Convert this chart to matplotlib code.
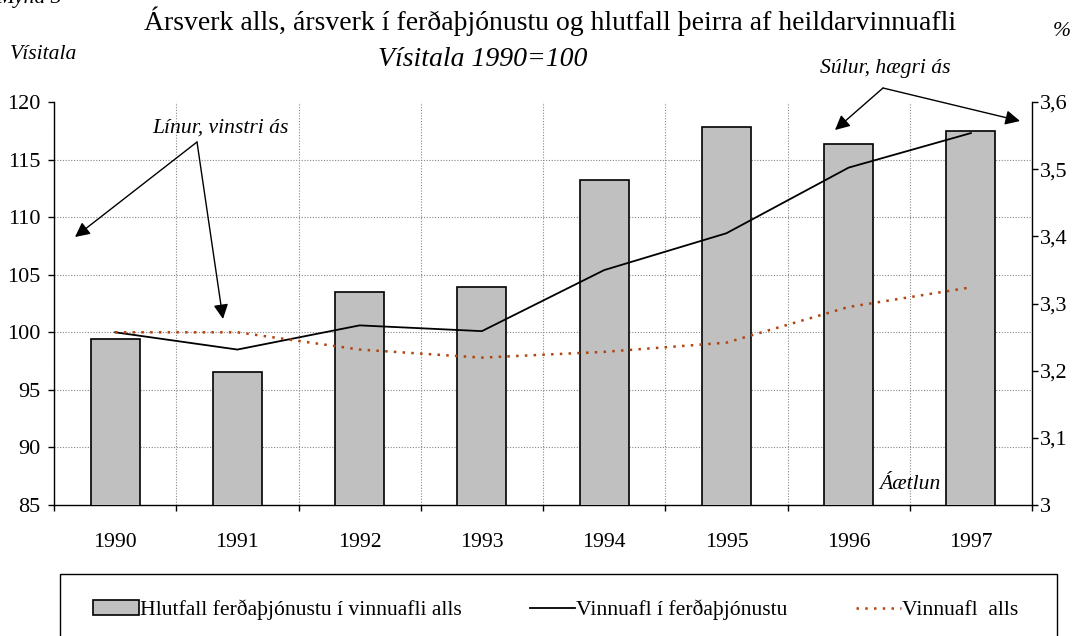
import numpy as np
import matplotlib
matplotlib.use('Agg')
import matplotlib.pyplot as plt
from matplotlib.patches import Patch, Rectangle, FancyArrowPatch
from matplotlib.lines import Line2D
from matplotlib.ticker import FuncFormatter

plt.rcParams['font.family'] = ['Liberation Serif', 'DejaVu Serif']

years = ['1990', '1991', '1992', '1993', '1994', '1995', '1996', '1997']
hlutfall = [3.247, 3.198, 3.317, 3.325, 3.484, 3.563, 3.538, 3.557]   # % (right axis)
vinnuafl_ferd = [100, 98.5, 100.6, 100.1, 105.4, 108.6, 114.3, 117.3]  # index
vinnuafl_alls = [100, 100, 98.5, 97.8, 98.3, 99.1, 102.2, 103.9]       # index
left_ticks = [85, 90, 95, 100, 105, 110, 115, 120]
right_ticks = [3.0, 3.1, 3.2, 3.3, 3.4, 3.5, 3.6]

W, H = 1084, 636


def px(x, y):
    """pixel (from top-left) -> figure fraction"""
    return (x / W, 1 - y / H)


fig = plt.figure(figsize=(W / 100, H / 100), dpi=100)
ax_b = fig.add_axes([54 / W, 131 / H, 978 / W, 403 / H])
ax_l = ax_b.twinx()

x = np.arange(len(years))

# bars, right axis
ax_b.bar(x, hlutfall, width=0.4, color='#c0c0c0', edgecolor='black', linewidth=1.2, zorder=3)
ax_b.set_ylim(3.0, 3.6)
ax_b.set_xlim(-0.5, len(years) - 0.5)
ax_b.yaxis.tick_right()
ax_b.set_yticks(right_ticks)
ax_b.yaxis.set_major_formatter(FuncFormatter(lambda v, p: ('%g' % round(v, 1)).replace('.', ',')))
# grid follows the left axis
ax_b.set_yticks([3.0 + (v - 85) * 0.6 / 35 for v in left_ticks[1:]], minor=True)
ax_b.set_xticks(np.arange(-0.5, len(years), 1))
ax_b.set_xticklabels([])
ax_b.set_xticks(x, minor=True)
ax_b.set_xticklabels(years, minor=True)
ax_b.set_axisbelow(True)
ax_b.grid(axis='y', which='minor', color='#888888', linestyle=(0, (1, 1.5)), linewidth=0.8)
ax_b.grid(axis='x', which='major', color='#888888', linestyle=(0, (1, 1.5)), linewidth=0.8)
ax_b.tick_params(axis='y', which='major', direction='out', length=4.5, width=1, pad=1.5, labelsize=16)
ax_b.tick_params(axis='y', which='minor', length=0)
ax_b.tick_params(axis='x', which='major', direction='out', length=4, width=1)
ax_b.tick_params(axis='x', which='minor', length=0, pad=20, labelsize=15.6)
for s in ['left', 'top']:
    ax_b.spines[s].set_visible(False)
ax_b.spines['right'].set_linewidth(1)
ax_b.spines['bottom'].set_linewidth(1)

# lines, left axis
ax_l.plot(x, vinnuafl_ferd, color='black', linewidth=1.3)
ax_l.plot(x, vinnuafl_alls, color='#b04510', linewidth=1.8, linestyle=(0, (1, 2.5)))
ax_l.set_ylim(85, 120)
ax_l.yaxis.tick_left()
ax_l.set_yticks(left_ticks)
ax_l.tick_params(axis='y', direction='out', length=4.5, width=1, pad=5, labelsize=16)
for s in ['right', 'top', 'bottom']:
    ax_l.spines[s].set_visible(False)
ax_l.spines['left'].set_linewidth(1)

# texts
fig.text(*px(-4, 2.5), 'Mynd 3', fontsize=15.6, style='italic', ha='left', va='baseline')
fig.text(*px(550, 30), 'Ársverk alls, ársverk í ferðaþjónustu og hlutfall þeirra af heildarvinnuafli',
         fontsize=20, ha='center', va='baseline')
fig.text(*px(483, 66), 'Vísitala 1990=100', fontsize=20, style='italic', ha='center', va='baseline')
fig.text(*px(10, 59), 'Vísitala', fontsize=15.6, style='italic', ha='left', va='baseline')
fig.text(*px(1062, 36), '%', fontsize=15.6, style='italic', ha='center', va='baseline')
fig.text(*px(910, 489), 'Áætlun', fontsize=15.6, style='italic', ha='center', va='baseline')

fig.text(*px(220, 133), 'Línur, vinstri ás', fontsize=15.6, style='italic', ha='center', va='baseline')
fig.text(*px(885, 73), 'Súlur, hægri ás', fontsize=15.6, style='italic', ha='center', va='baseline')

arrow = dict(arrowstyle='-|>', mutation_scale=22, color='black', lw=1, shrinkA=0, shrinkB=0)
for start, end in [((197, 142), (75, 237)), ((197, 142), (223, 319)),
                   ((883, 88), (835, 130)), ((883, 88), (1020, 121))]:
    fig.add_artist(FancyArrowPatch(px(*start), px(*end), transform=fig.transFigure, **arrow))

# legend with its own frame
fig.add_artist(Rectangle(px(60, 642), 997 / W, 68 / H, transform=fig.transFigure,
                         fill=False, edgecolor='black', linewidth=1))
handles = [Patch(facecolor='#c0c0c0', edgecolor='black', linewidth=1.2),
           Line2D([], [], color='black', linewidth=1.3),
           Line2D([], [], color='#b04510', linewidth=1.8, linestyle=(0, (1, 2.5)))]
labels = ['Hlutfall ferðaþjónustu í vinnuafli alls', 'Vinnuafl í ferðaþjónustu', 'Vinnuafl  alls']
fig.legend(handles, labels, loc='center left', bbox_to_anchor=px(93, 610), ncol=3, frameon=False,
           fontsize=15.6, handlelength=2.1, handletextpad=0.05, columnspacing=3.15, borderaxespad=0,
           borderpad=0)

fig.savefig('out.png', dpi=100)
